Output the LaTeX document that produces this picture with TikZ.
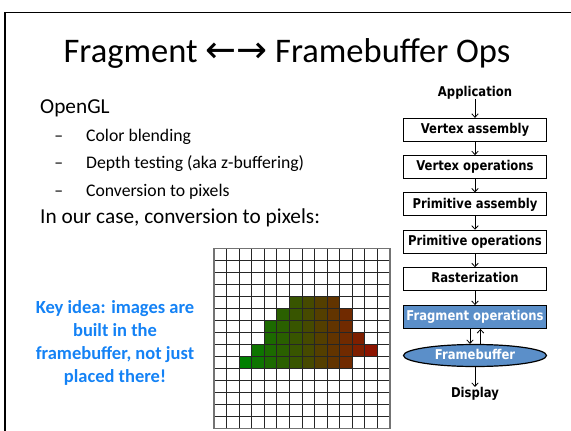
\documentclass[tikz,border=0pt]{standalone}
\usepackage{fontspec}
\setmainfont{Carlito}
\newfontfamily\pipefont{DejaVu Sans}[FakeStretch=0.86]
\newfontfamily\arrowfont{DejaVu Sans}
\usetikzlibrary{arrows.meta,shapes.geometric}
\definecolor{pipeblue}{RGB}{91,143,201}
\definecolor{keyblue}{RGB}{20,130,245}
\definecolor{pixA}{RGB}{0,128,0}
\definecolor{pixB}{RGB}{140,20,0}
\tikzset{
  stage/.style={draw=black, line width=0.9pt, fill=white, minimum width=143pt,
    minimum height=23pt, inner sep=0pt, text height=10pt, text depth=2.8pt,
    font=\pipefont\bfseries\fontsize{13.5}{15}\selectfont},
  plain/.style={inner sep=0pt, text height=10pt, text depth=2.8pt,
    font=\pipefont\bfseries\fontsize{13.5}{15}\selectfont},
  flow/.style={-{Straight Barb[length=3.5pt,width=6.5pt]}, line width=0.8pt},
  bodytxt/.style={inner sep=0pt, anchor=base west, font=\fontsize{21.3}{25}\selectfont},
  subtxt/.style={inner sep=0pt, anchor=base west, font=\fontsize{17.7}{22}\selectfont},
  keytxt/.style={inner sep=0pt, anchor=base, text=keyblue, font=\bfseries\fontsize{18.5}{22}\selectfont},
  gridline/.style={black!85, line width=0.9pt},
}
\begin{document}
\begin{tikzpicture}[x=1pt,y=-1pt]
\useasboundingbox (0,0) rectangle (571,431);
% slide frame
\draw[line width=1.8pt] (571,12.5) -- (5,12.5) -- (5,431);
% title
\node[inner sep=0pt, anchor=base] (title) at (287,62)
  {\fontsize{34.5}{40}\selectfont Fragment {\arrowfont\fontsize{37}{40}\selectfont ←→} Framebuffer Ops};
% left text
\node[bodytxt] (ogl) at (40,113) {OpenGL};
\node[subtxt] (b1d) at (52,141) {\fontsize{17.7}{22}\selectfont\hbox to 13pt{\hss\char"2013\hss}};
\node[subtxt] (b1) at (86,141) {Color blending};
\node[subtxt] (b2d) at (52,168.5) {\hbox to 13pt{\hss\char"2013\hss}};
\node[subtxt] (b2) at (86,168.5) {Depth testing (aka z-buffering)};
\node[subtxt] (b3d) at (52,196) {\hbox to 13pt{\hss\char"2013\hss}};
\node[subtxt] (b3) at (86,196) {Conversion to pixels};
\node[bodytxt] (case) at (40,223.5) {In our case, conversion to pixels:};
% key idea
\node[keytxt] (k1) at (115,313) {Key idea: images are};
\node[keytxt] (k2) at (115,336) {built in the};
\node[keytxt] (k3) at (115,359) {framebuffer, not just};
\node[keytxt] (k4) at (115,382) {placed there!};
% pixel grid
\foreach \r/\a/\b in {4/6/9, 5/5/10, 6/4/10, 7/4/11, 8/3/12, 9/2/10}{
  \foreach \c in {\a,...,\b}{
    \pgfmathtruncatemacro\t{(\c-2)*10}
    \fill[pixB!\t!pixA] (214+\c*12.5714,248.3+\r*12.0267) rectangle ++(12.5714,12.0267);
  }
}
\foreach \i in {1,...,13}{
  \draw[gridline] (214+\i*12.5714,248.3) -- (214+\i*12.5714,428.7);
}
\foreach \i in {1,...,14}{
  \draw[gridline] (214,248.3+\i*12.0267) -- (390,248.3+\i*12.0267);
}
\draw[black!55, line width=1.5pt] (214,248.3) rectangle (390,428.7);
% pipeline
\node[plain] (app) at (475,92.5) {Application};
\node[stage] (va) at (475,129.8) {Vertex assembly};
\node[stage] (vo) at (475,167.1) {Vertex operations};
\node[stage] (pa) at (475,204.4) {Primitive assembly};
\node[stage] (po) at (475,241.7) {Primitive operations};
\node[stage] (ra) at (475,279.2) {Rasterization};
\node[stage, fill=pipeblue, text=white] (fo) at (475,317) {Fragment operations};
\node[ellipse, draw=black, line width=1.2pt, fill=pipeblue, text=white, minimum width=143pt,
  minimum height=22pt, inner sep=0pt, text height=10pt, text depth=2.8pt,
  font=\pipefont\bfseries\fontsize{13.5}{15}\selectfont] (fb) at (475,355.5) {Framebuffer};
\node[plain] (disp) at (475,393.5) {Display};
\coordinate (xd) at (470,0);
\coordinate (xu) at (480.5,0);
\draw[flow] (app) -- (va);
\draw[flow] (va) -- (vo);
\draw[flow] (vo) -- (pa);
\draw[flow] (pa) -- (po);
\draw[flow] (po) -- (ra);
\draw[flow] (ra) -- (fo);
\draw[flow] (fo.south -| xd) -- (fb.north -| xd);
\draw[flow] (fb.north -| xu) -- (fo.south -| xu);
\draw[flow] (fb) -- (disp);
\end{tikzpicture}
\end{document}
